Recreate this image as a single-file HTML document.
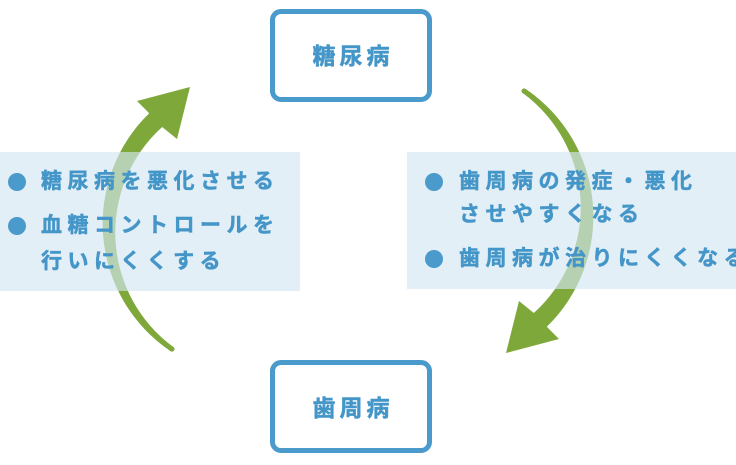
<!DOCTYPE html>
<html>
<head>
<meta charset="utf-8">
<style>
  html, body { margin:0; padding:0; }
  body { width:736px; height:465px; position:relative; overflow:hidden; background:#ffffff;
         font-family:"Liberation Sans","Noto Sans CJK JP",sans-serif; }
  .box { position:absolute; left:270px; width:152px; height:83px; border:5px solid #4a9acb;
         border-radius:11px; background:#fff; }
  .boxtext { position:absolute; left:-5px; top:27px; width:162px; text-align:center; font-size:23px; font-weight:700;
             color:#4596c8; letter-spacing:4px; line-height:30px; text-indent:4px;
             -webkit-text-stroke:0.5px #4596c8;
             font-family:"Liberation Sans","Noto Sans CJK JP",sans-serif; }
  .panel { position:absolute; background:rgba(211,231,243,0.65); z-index:2; }
  .ln { position:absolute; font-size:21px; font-weight:700; color:#4596c8; letter-spacing:5.5px;
        line-height:30px; white-space:nowrap; z-index:3;
        -webkit-text-stroke:0.5px #4596c8;
        font-family:"Liberation Sans","Noto Sans CJK JP",sans-serif; }
  .dot { position:absolute; width:18px; height:18px; border-radius:50%; background:#4a9acb; z-index:3; }
  svg { position:absolute; left:0; top:0; z-index:1; }
</style>
</head>
<body>
<svg width="736" height="465" viewBox="0 0 736 465">
  <g fill="#7fa83b">
    <path d="M 170.4 351.1 A 154 154 0 0 1 149.2 113.2 L 137 101 L 190 87 L 177 139 L 162.2 127 A 142 142 0 0 0 173.3 347 Z"/>
    <circle cx="171.9" cy="349" r="2.6"/>
  </g>
  <g fill="#7fa83b" transform="rotate(180 348 220)">
    <path d="M 170.4 351.1 A 154 154 0 0 1 149.2 113.2 L 137 101 L 190 87 L 177 139 L 162.2 127 A 142 142 0 0 0 173.3 347 Z"/>
    <circle cx="171.9" cy="349" r="2.6"/>
  </g>
</svg>

<div class="box" style="top:9px;"><div class="boxtext">糖尿病</div></div>
<div class="box" style="top:360px;"><div class="boxtext" style="top:28px;">歯周病</div></div>

<div class="panel" style="left:0;top:152px;width:300px;height:139px;"></div>
<div class="panel" style="left:407px;top:152px;width:329px;height:137px;"></div>

<div class="dot" style="left:8px;top:173px;"></div>
<div class="ln" style="left:41px;top:167px;">糖尿病を悪化させる</div>
<div class="dot" style="left:8px;top:217px;"></div>
<div class="ln" style="left:41px;top:211px;">血糖コントロールを</div>
<div class="ln" style="left:41px;top:247px;">行いにくくする</div>

<div class="dot" style="left:425px;top:173px;"></div>
<div class="ln" style="left:459px;top:167px;">歯周病の発症・悪化</div>
<div class="ln" style="left:459px;top:200px;">させやすくなる</div>
<div class="dot" style="left:425px;top:250px;"></div>
<div class="ln" style="left:459px;top:244px;">歯周病が治りにくくなる</div>
</body>
</html>
